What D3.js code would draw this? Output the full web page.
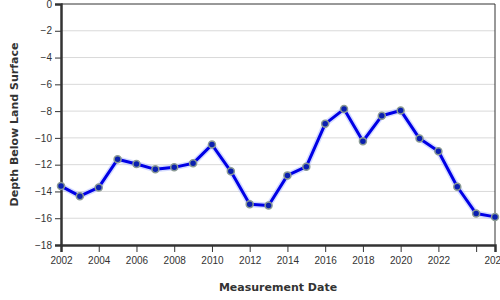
<!DOCTYPE html>
<html>
<head>
<meta charset="utf-8">
<script src="https://cdn.jsdelivr.net/npm/d3@7"></script>
<style>
  body { margin: 0; background: #fff; }
  svg { display: block; font-family: "DejaVu Sans", sans-serif; }
  .tick text { fill: #333; font-size: 10px; }
  .grid line { stroke: #d9d9d9; }
  .axis-title { font-size: 11px; font-weight: bold; fill: #333; }
</style>
</head>
<body>
<svg id="chart"></svg>
<script>
// data
const years = [2002, 2003, 2004, 2005, 2006, 2007, 2008, 2009, 2010, 2011, 2012, 2013,
               2014, 2015, 2016, 2017, 2018, 2019, 2020, 2021, 2022, 2023, 2024, 2025];
const depths = [-13.6, -14.35, -13.7, -11.6, -11.95, -12.35, -12.2, -11.9, -10.5, -12.5, -14.95, -15.05,
                -12.8, -12.15, -8.95, -7.85, -10.25, -8.35, -7.95, -10.05, -11.0, -13.65, -15.65, -15.9];
const yTicks = [0, -2, -4, -6, -8, -10, -12, -14, -16, -18];
const xTicks = [2002, 2004, 2006, 2008, 2010, 2012, 2014, 2016, 2018, 2020, 2022, 2024, 2025];
const xLabels = ["2002", "2004", "2006", "2008", "2010", "2012", "2014", "2016", "2018", "2020", "2022", "", "2025"];

const width = 500;
const height = 300;
const margin = { top: 4, right: 5, bottom: 55, left: 61 };
const innerW = width - margin.left - margin.right;
const innerH = height - margin.top - margin.bottom;

const svg = d3.select("#chart")
  .attr("width", width)
  .attr("height", height);

const g = svg.append("g")
  .attr("transform", "translate(" + margin.left + "," + margin.top + ")");

// scales
const x = d3.scaleLinear().domain([2002, 2025]).range([0, innerW]);
const y = d3.scaleLinear().domain([-18, 0]).range([innerH, 0]);

// gridlines
g.append("g")
  .attr("class", "grid")
  .selectAll("line")
  .data(yTicks.filter(d => d !== 0 && d !== -18))
  .enter().append("line")
  .attr("x1", 0)
  .attr("x2", innerW)
  .attr("y1", d => y(d))
  .attr("y2", d => y(d));

// frame top / right
g.append("line")
  .attr("x1", 0).attr("x2", innerW)
  .attr("y1", 0).attr("y2", 0)
  .attr("stroke", "#333").attr("stroke-width", 1);
g.append("line")
  .attr("x1", innerW).attr("x2", innerW)
  .attr("y1", 0).attr("y2", innerH)
  .attr("stroke", "#333").attr("stroke-width", 1);

// axes
const yAxis = d3.axisLeft(y).tickValues(yTicks).tickSize(6).tickPadding(3);
const yG = g.append("g").call(yAxis);
yG.select(".domain").attr("stroke", "#333").attr("stroke-width", 2.5);
yG.selectAll(".tick line").attr("stroke", "#333");

const xAxis = d3.axisBottom(x).tickValues(xTicks).tickSize(7).tickPadding(5)
  .tickFormat((d, i) => xLabels[i]);
const xG = g.append("g")
  .attr("transform", "translate(0," + innerH + ")")
  .call(xAxis);
xG.select(".domain").attr("stroke", "#333").attr("stroke-width", 2.5);
xG.selectAll(".tick line").attr("stroke", "#333");

// axis titles
svg.append("text")
  .attr("class", "axis-title")
  .attr("text-anchor", "middle")
  .attr("x", 278)
  .attr("y", 291)
  .text("Measurement Date");

svg.append("text")
  .attr("class", "axis-title")
  .attr("text-anchor", "middle")
  .attr("transform", "translate(18," + (margin.top + innerH / 2) + ") rotate(-90)")
  .text("Depth Below Land Surface");

// line
const points = years.map((yr, i) => ({ year: yr, depth: depths[i] }));
const line = d3.line().x(d => x(d.year)).y(d => y(d.depth));

g.append("path")
  .datum(points)
  .attr("fill", "none")
  .attr("stroke", "#aab8ff")
  .attr("stroke-opacity", 0.5)
  .attr("stroke-width", 6)
  .attr("stroke-linejoin", "round")
  .attr("d", line);

g.append("path")
  .datum(points)
  .attr("fill", "none")
  .attr("stroke", "#0000e6")
  .attr("stroke-width", 3)
  .attr("stroke-linejoin", "round")
  .attr("d", line);

g.selectAll("circle")
  .data(points)
  .enter().append("circle")
  .attr("cx", d => x(d.year))
  .attr("cy", d => y(d.depth))
  .attr("r", 3.5)
  .attr("fill", "#0a1fb0")
  .attr("stroke", "#8a9a94")
  .attr("stroke-width", 1.5);
</script>
</body>
</html>
